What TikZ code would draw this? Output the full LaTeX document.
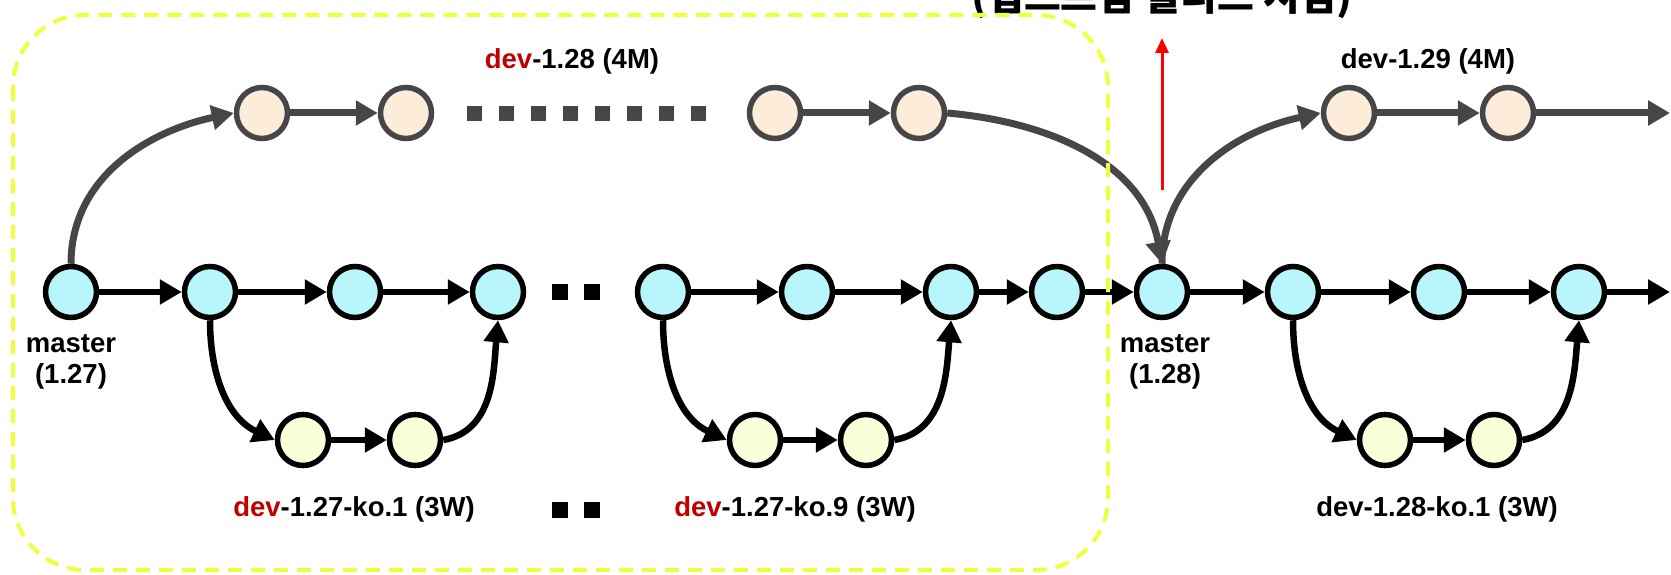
\documentclass[tikz,border=0pt]{standalone}
\usepackage{fontspec}
\setmainfont{Liberation Sans}
\newfontfamily\krfont{Noto Sans CJK KR}
\usetikzlibrary{arrows.meta}
\definecolor{cyanfill}{RGB}{185,246,252}
\definecolor{peachfill}{RGB}{253,236,218}
\definecolor{yellowfill}{RGB}{250,255,218}
\definecolor{grayline}{RGB}{70,70,70}
\definecolor{devred}{RGB}{192,0,0}
\definecolor{boxyellow}{RGB}{238,255,60}
\begin{document}
\begin{tikzpicture}[x=1pt,y=1pt,
  commit/.style={circle, minimum size=51pt, inner sep=0pt, line width=5.5pt},
  mnode/.style={commit, draw=black, fill=cyanfill},
  onode/.style={commit, draw=grayline, fill=peachfill},
  ynode/.style={commit, draw=black, fill=yellowfill},
  blk/.style={line width=6.5pt, draw=black, -{Triangle[length=22pt,width=24pt]}},
  gry/.style={line width=7pt, draw=grayline, -{Triangle[length=22pt,width=24pt]}},
  lbl/.style={font=\fontsize{27.5}{31}\selectfont\bfseries, align=center, inner sep=0pt},
  sq/.style={rectangle, minimum size=16pt, inner sep=0pt, fill=black},
  gsq/.style={rectangle, minimum size=15pt, inner sep=0pt, fill=grayline},
  boxline/.style={draw=boxyellow, line width=4pt, dash pattern=on 14pt off 9pt, rounded corners=72pt},
  redarrow/.style={draw=red, line width=3pt, -{Triangle[length=15pt,width=13pt]}}
]
\useasboundingbox (0,0) rectangle (1671,-575);

% top (cut off) title
\node[font=\fontsize{40}{44}\selectfont\krfont\bfseries, anchor=base, inner sep=0pt] (title) at (1162,-11) {(업스트림 릴리스 시점)};

% main row
\node[mnode] (m1) at (71,-292) {};
\node[mnode] (m2) at (210,-292) {};
\node[mnode] (m3) at (355,-292) {};
\node[mnode] (m4) at (498,-292) {};
\node[mnode] (m5) at (663,-292) {};
\node[mnode] (m6) at (807,-292) {};
\node[mnode] (m7) at (951,-292) {};
\node[mnode] (m8) at (1057,-292) {};
\node[mnode] (m9) at (1162,-292) {};
\node[mnode] (m10) at (1293,-292) {};
\node[mnode] (m11) at (1439,-292) {};
\node[mnode] (m12) at (1579,-292) {};
\coordinate (e2) at (1670,-292);

% orange row
\node[onode] (o1) at (262,-113) {};
\node[onode] (o2) at (406,-113) {};
\node[onode] (o3) at (775,-113) {};
\node[onode] (o4) at (919,-113) {};
\node[onode] (o5) at (1349,-113) {};
\node[onode] (o6) at (1508,-113) {};
\coordinate (e1) at (1670,-113);

% yellow row
\node[ynode] (y1) at (303,-440) {};
\node[ynode] (y2) at (415,-440) {};
\node[ynode] (y3) at (755,-440) {};
\node[ynode] (y4) at (866,-440) {};
\node[ynode] (y5) at (1385,-440) {};
\node[ynode] (y6) at (1494,-440) {};

% ellipsis squares
\foreach \i in {0,...,7} {
  \node[gsq] (g\i) at ({474+32*\i},-114) {};
}
\node[sq] (s1) at (560,-292) {};
\node[sq] (s2) at (592,-292) {};
\node[sq] (s3) at (560,-510) {};
\node[sq] (s4) at (592,-510) {};

% main row arrows
\draw[blk] (m1) -- (m2);
\draw[blk] (m2) -- (m3);
\draw[blk] (m3) -- (m4);
\draw[blk] (m5) -- (m6);
\draw[blk] (m6) -- (m7);
\draw[blk] (m7) -- (m8);
\draw[blk] (m8) -- (m9);
\draw[blk] (m9) -- (m10);
\draw[blk] (m10) -- (m11);
\draw[blk] (m11) -- (m12);
\draw[blk] (m12) -- (e2);

% yellow branches
\draw[blk] (m2.south) to[out=-90,in=155] (y1.west);
\draw[blk] (y1) -- (y2);
\draw[blk] (y2.east) to[out=10,in=-95] (m4.south);
\draw[blk] (m5.south) to[out=-90,in=155] (y3.west);
\draw[blk] (y3) -- (y4);
\draw[blk] (y4.east) to[out=10,in=-95] (m7.south);
\draw[blk] (m10.south) to[out=-90,in=155] (y5.west);
\draw[blk] (y5) -- (y6);
\draw[blk] (y6.east) to[out=10,in=-95] (m12.south);

% orange branches
\draw[gry] (m1.north) to[out=90,in=192] (o1.west);
\draw[gry] (o1) -- (o2);
\draw[gry] (o3) -- (o4);
\draw[gry] (o4.east) to[out=-5,in=100] (m9.north);
\draw[gry] (m9.north) to[out=90,in=192] (o5.west);
\draw[gry] (o5) -- (o6);
\draw[gry] (o6) -- (e1);

% red arrow
\coordinate (r1) at (1162,-190);
\coordinate (r2) at (1162,-38);
\draw[redarrow] (r1) -- (r2);

% labels
\node[lbl] (lm1) at (71,-362) {master\\(1.27)};
\node[lbl] (lm9) at (1165,-362) {master\\(1.28)};
\node[lbl] (l128) at (572,-61) {{\color{devred}dev}-1.28 (4M)};
\node[lbl] (l129) at (1428,-61) {dev-1.29 (4M)};
\node[lbl] (lk1) at (354,-509) {{\color{devred}dev}-1.27-ko.1 (3W)};
\node[lbl] (lk9) at (795,-509) {{\color{devred}dev}-1.27-ko.9 (3W)};
\node[lbl] (lk28) at (1437,-509) {dev-1.28-ko.1 (3W)};

% dashed yellow box
\draw[boxline] (13,-15) rectangle (1108,-570);
\end{tikzpicture}
\end{document}
